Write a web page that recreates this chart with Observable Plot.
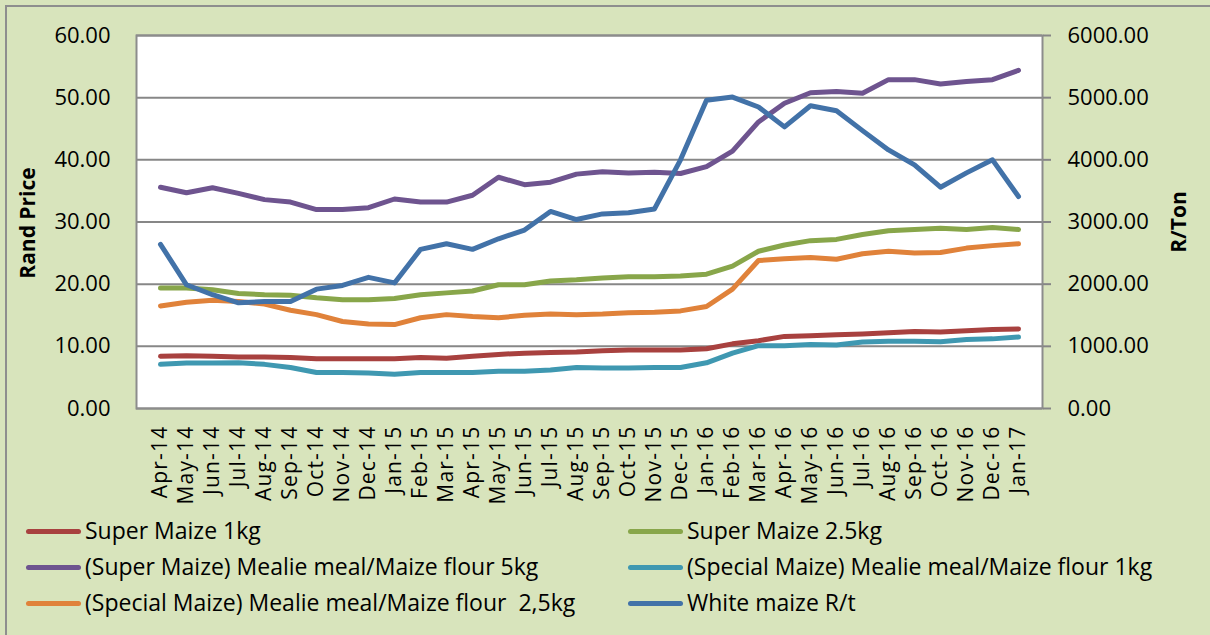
<!DOCTYPE html>
<html><head><meta charset="utf-8">
<script src="https://cdn.jsdelivr.net/npm/d3@7"></script>
<script src="https://cdn.jsdelivr.net/npm/@observablehq/plot@0.6"></script>
<style>
html,body{margin:0;padding:0;background:#D8E4BC;}
#wrap{position:relative;width:1210px;height:635px;overflow:hidden;background:#D8E4BC;font-family:"Open Sans",sans-serif;color:#000;}
#border{position:absolute;left:5px;top:5px;width:1300px;height:700px;border:2px solid #8E8E8E;box-sizing:border-box;}
#chart{position:absolute;left:0;top:0;}
#chart g[aria-label="x-axis tick label"] text{letter-spacing:1.2px;}
.ttl{position:absolute;font-weight:bold;font-size:21px;white-space:nowrap;transform:translate(-50%,-50%) rotate(-90deg);}
.sw{position:absolute;height:5px;border-radius:3px;}
.lt{position:absolute;font-size:23px;line-height:30px;white-space:pre;}
</style></head>
<body><div id="wrap"><div id="border"></div><div id="chart"></div>
<div class="ttl" style="left:27px;top:223px">Rand Price</div>
<div class="ttl" style="left:1178px;top:222px">R/Ton</div>
<div id="legend"></div>
</div>
<script>
const months = ["Apr-14","May-14","Jun-14","Jul-14","Aug-14","Sep-14","Oct-14","Nov-14","Dec-14","Jan-15","Feb-15","Mar-15","Apr-15","May-15","Jun-15","Jul-15","Aug-15","Sep-15","Oct-15","Nov-15","Dec-15","Jan-16","Feb-16","Mar-16","Apr-16","May-16","Jun-16","Jul-16","Aug-16","Sep-16","Oct-16","Nov-16","Dec-16","Jan-17"];
const superMaize1kg = [8.4,8.5,8.4,8.3,8.3,8.2,8.0,8.0,8.0,8.0,8.2,8.1,8.4,8.7,8.9,9.0,9.1,9.3,9.4,9.4,9.4,9.6,10.4,10.9,11.6,11.7,11.85,12.0,12.2,12.4,12.3,12.5,12.7,12.8];
const superMaize25kg = [19.4,19.4,19.1,18.5,18.3,18.2,17.8,17.5,17.5,17.7,18.3,18.6,18.9,19.9,19.9,20.5,20.7,21.0,21.2,21.2,21.3,21.6,22.9,25.3,26.3,27.0,27.2,28.0,28.6,28.8,29.0,28.8,29.1,28.8];
const superMealie5kg = [35.6,34.7,35.5,34.6,33.6,33.2,32.0,32.0,32.3,33.7,33.2,33.2,34.3,37.2,36.0,36.4,37.7,38.1,37.9,38.0,37.8,38.9,41.4,46.1,49.1,50.8,51.0,50.7,52.9,52.9,52.2,52.6,52.9,54.4];
const specialMealie1kg = [7.1,7.3,7.3,7.35,7.1,6.6,5.8,5.8,5.7,5.5,5.8,5.8,5.8,6.0,6.0,6.2,6.6,6.5,6.5,6.6,6.6,7.35,8.9,10.1,10.1,10.3,10.2,10.7,10.8,10.8,10.75,11.1,11.2,11.5];
const specialMealie25kg = [16.5,17.1,17.4,17.2,16.8,15.8,15.1,14.0,13.6,13.5,14.6,15.1,14.8,14.6,15.0,15.2,15.1,15.2,15.4,15.5,15.7,16.4,19.2,23.8,24.1,24.3,24.0,24.9,25.3,25.0,25.1,25.8,26.2,26.5];
const whiteMaizeRt = [2640,1990,1830,1700,1720,1720,1920,1980,2110,2020,2560,2650,2560,2730,2870,3170,3040,3130,3150,3210,4000,4960,5010,4850,4530,4870,4790,4470,4160,3920,3560,3790,4000,3410];
const leftTicks = [0,10,20,30,40,50,60];
const rightTicks = [0,1000,2000,3000,4000,5000,6000];

const seriesNames = ["Super Maize 1kg","Super Maize 2.5kg","(Super Maize) Mealie meal/Maize flour 5kg","(Special Maize) Mealie meal/Maize flour 1kg","(Special Maize) Mealie meal/Maize flour  2,5kg","White maize R/t"];
const seriesColors = ["#A8413F","#88A64A","#6E548F","#3F98B1","#E0823A","#4272A8"];
const seriesValues = [superMaize1kg, superMaize25kg, superMealie5kg, specialMealie1kg, specialMealie25kg, whiteMaizeRt];
const secondary = [false,false,false,false,false,true];
const ratio = 100; // right axis (R/t) : left axis (Rand)

const rows = seriesValues.flatMap((vals, si) => vals.map((v, i) => ({
  series: seriesNames[si], month: months[i], y: secondary[si] ? v / ratio : v
})));

const chart = Plot.plot({
  width: 1210, height: 520,
  marginTop: 35, marginBottom: 112, marginLeft: 136, marginRight: 168,
  style: {background: "transparent", fontFamily: "'Open Sans', sans-serif", color: "#000", overflow: "visible"},
  x: {type: "point", domain: months, padding: 0.5, align: 0.5},
  y: {domain: [0, 60]},
  color: {domain: seriesNames, range: seriesColors},
  marks: [
    Plot.frame({fill: "white", stroke: null}),
    Plot.gridY(leftTicks, {stroke: "#878787", strokeOpacity: 1, strokeWidth: 2}),
    Plot.frame({stroke: "#8C8C8C", strokeWidth: 2}),
    Plot.axisY(leftTicks, {anchor: "left", tickSize: 0, tickPadding: 26, fontSize: 22, tickFormat: d => d.toFixed(2), label: null}),
    Plot.axisY(rightTicks.map(d => d / ratio), {anchor: "right", tickSize: 8, tickPadding: 17, fontSize: 22, stroke: "#868686", strokeWidth: 2, tickFormat: d => (d * ratio).toFixed(2), label: null}),
    Plot.axisX({tickRotate: -90, tickSize: 0, tickPadding: 17, fontSize: 21, label: null}),
    Plot.lineY(rows, {x: "month", y: "y", z: "series", stroke: "series", strokeWidth: 5, strokeLinejoin: "round", strokeLinecap: "round"})
  ]
});
document.getElementById("chart").appendChild(chart);

// legend
const legend = document.getElementById("legend");
const colX = [{sw: 26, tx: 85}, {sw: 628, tx: 687}];
const rowY = [531, 567, 603];
seriesNames.forEach((name, i) => {
  const c = colX[i % 2], r = rowY[Math.floor(i / 2)];
  const sw = document.createElement("div");
  sw.className = "sw";
  sw.style.left = c.sw + "px"; sw.style.width = "55px"; sw.style.top = (r - 2.5) + "px";
  sw.style.background = seriesColors[i];
  legend.appendChild(sw);
  const t = document.createElement("div");
  t.className = "lt";
  t.style.left = c.tx + "px"; t.style.top = (r - 16) + "px";
  t.textContent = name;
  legend.appendChild(t);
});
</script></body></html>
